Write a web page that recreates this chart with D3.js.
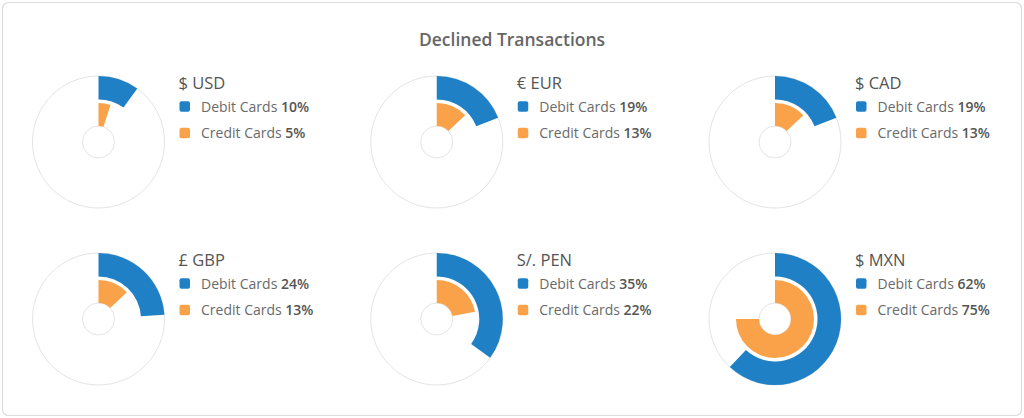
<!DOCTYPE html>
<html>
<head>
<meta charset="utf-8">
<script src="https://cdn.jsdelivr.net/npm/d3@7"></script>
<style>
  html, body { margin: 0; padding: 0; background: #fff; }
  svg { display: block; font-family: "Open Sans", sans-serif; }
</style>
</head>
<body>
<svg id="chart" width="1024" height="418"></svg>
<script>
const chartTitle = "Declined Transactions";
const currencies = ["$ USD", "€ EUR", "$ CAD", "£ GBP", "S/. PEN", "$ MXN"];
const seriesNames = ["Debit Cards", "Credit Cards"];
const debitValues = [10, 19, 19, 24, 35, 62];
const creditValues = [5, 13, 13, 13, 22, 75];
const seriesColors = ["#1f80c6", "#f9a24a"];

const svg = d3.select("#chart");
const W = 1024, H = 418;

svg.append("rect")
  .attr("x", 2.5).attr("y", 2.5)
  .attr("width", W - 5).attr("height", H - 5)
  .attr("rx", 6).attr("ry", 6)
  .attr("fill", "#fff").attr("stroke", "#dcdcdc").attr("stroke-width", 1.2);

svg.append("text")
  .attr("x", 512).attr("y", 46)
  .attr("text-anchor", "middle")
  .attr("font-size", 17.5).attr("font-weight", 600)
  .attr("fill", "#666")
  .text(chartTitle);

const colX = d3.scalePoint().domain([0, 1, 2]).range([98.5, 775]);
const rowY = d3.scalePoint().domain([0, 1]).range([142, 319]);
const angle = d3.scaleLinear().domain([0, 100]).range([0, 2 * Math.PI]);

const R = { outer: 66, debitIn: 42.5, creditOut: 39, hole: 16 };

currencies.forEach((cur, i) => {
  const cx = colX(i % 3), cy = rowY(Math.floor(i / 3));
  const g = svg.append("g").attr("transform", `translate(${cx},${cy})`);

  g.append("circle").attr("r", R.outer)
    .attr("fill", "#fff").attr("stroke", "#e4e4e4").attr("stroke-width", 1);
  g.append("circle").attr("r", R.hole)
    .attr("fill", "#fff").attr("stroke", "#e4e4e4").attr("stroke-width", 1);

  const vals = [debitValues[i], creditValues[i]];
  const radii = [[R.debitIn, R.outer], [R.hole, R.creditOut]];
  vals.forEach((v, k) => {
    const arc = d3.arc()
      .innerRadius(radii[k][0]).outerRadius(radii[k][1])
      .startAngle(0).endAngle(angle(v));
    g.append("path").attr("d", arc()).attr("fill", seriesColors[k]);
  });

  const lx = cx + 81;
  const lg = svg.append("g");
  lg.append("text")
    .attr("x", lx - 1).attr("y", cy - 53)
    .attr("font-size", 16.5).attr("font-weight", 500)
    .attr("fill", "#555")
    .text(cur);

  vals.forEach((v, k) => {
    const by = cy - 30.5 + k * 26.5;
    lg.append("rect")
      .attr("x", lx).attr("y", by - 10.3)
      .attr("width", 10.5).attr("height", 10.5)
      .attr("rx", 2).attr("fill", seriesColors[k]);
    const t = lg.append("text")
      .attr("x", lx + 21.5).attr("y", by)
      .attr("font-size", 14).attr("fill", "#6a6a6a");
    t.append("tspan").text(seriesNames[k] + " ");
    t.append("tspan").attr("font-weight", 600).attr("fill", "#555").text(v + "%");
  });
});
</script>
</body>
</html>
